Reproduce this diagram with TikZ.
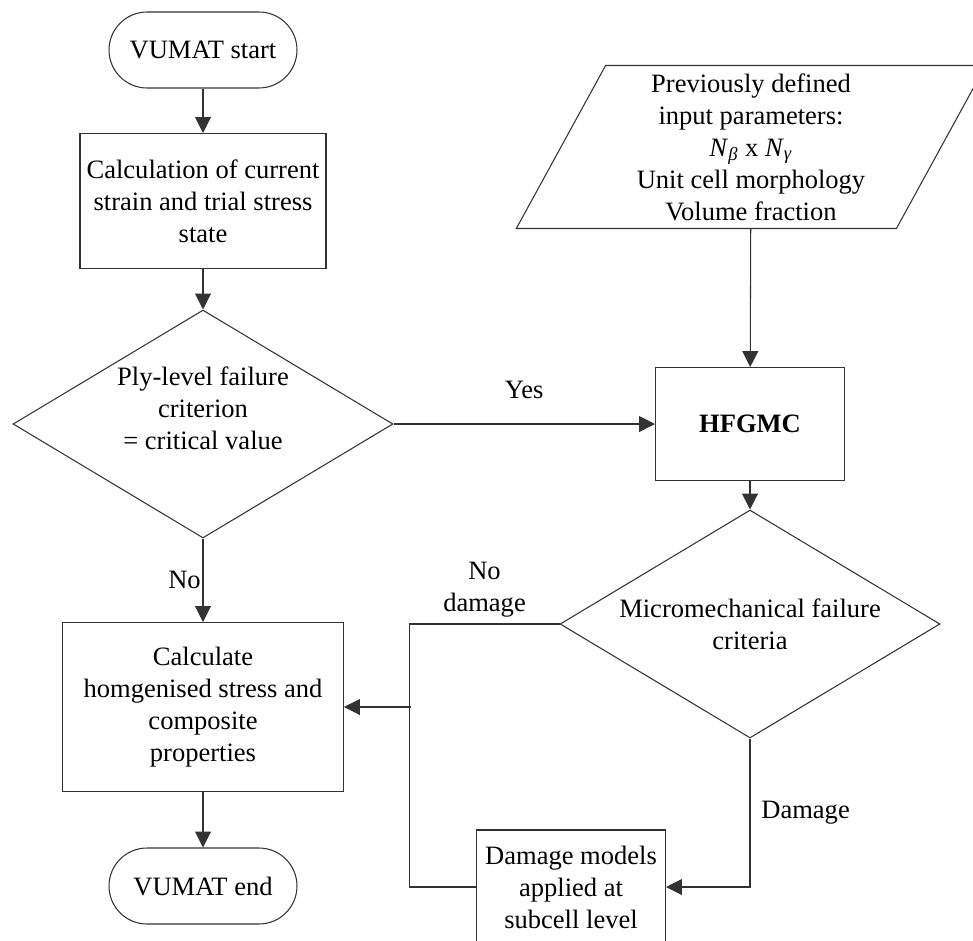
\documentclass[tikz,border=0pt]{standalone}
\usepackage{fontspec}
\setmainfont{Liberation Serif}
\usetikzlibrary{shapes.geometric,arrows.meta}

\begin{document}
\begin{tikzpicture}[x=0.02cm, y=-0.02cm, font=\rmfamily\fontsize{15.1}{18.2}\selectfont, line width=0.6pt]
	\tikzstyle{terminal} = [rectangle, draw=black!80, rounded corners=0.76cm, minimum width=3.76cm, minimum height=1.52cm]
	\tikzstyle{process} = [rectangle, draw=black!80, align=center, inner sep=2pt]
	\tikzstyle{decision} = [diamond, draw=black!80, align=center, inner sep=0pt, shape aspect=1.667, minimum width=7.6cm, minimum height=4.56cm]
	\tikzstyle{inputbox} = [trapezium, draw=black!80, align=center, inner sep=0pt, trapezium left angle=64.5, trapezium right angle=115.5, trapezium stretches=true, minimum width=9.4cm, minimum height=3.26cm]
	\tikzstyle{flow} = [draw=black!80, -{Triangle[length=9pt, width=9pt]}]
	\tikzstyle{plain} = [draw=black!80]
	\useasboundingbox (0, 0) rectangle (973, 940);
	% left column
	\node[terminal] (start) at (203, 50) {VUMAT start};
	\node[process, minimum width=4.92cm, minimum height=2.7cm] (calc) at (203, 201) {Calculation of current\\strain and trial stress\\state};
	\node[decision, label={[align=center, yshift=0.32cm]center:Ply-level failure\\criterion\\= critical value}] (ply) at (203, 424) {};
	\node[process, minimum width=5.62cm, minimum height=3.38cm] (result) at (203, 707) {Calculate\\homgenised stress and\\composite\\properties};
	\node[terminal] (end) at (203, 886) {VUMAT end};
	% right column
	\node[inputbox] (input) at (751, 147) {Previously defined\\input parameters:\\\textit{N}\textsubscript{\textit{β}} x \textit{N}\textsubscript{\textit{γ}}\\Unit cell morphology\\Volume fraction};
	\node[process, minimum width=3.78cm, minimum height=2.26cm] (hfgmc) at (750, 424) {\textbf{HFGMC}};
	\node[decision] (micro) at (750, 624) {Micromechanical failure\\criteria};
	\node[process, minimum width=3.78cm, minimum height=2.28cm] (dmg) at (571, 887) {Damage models\\applied at\\subcell level};
	\coordinate (merge) at (411, 707);
	% connectors
	\draw[flow] (start) -- (calc);
	\draw[flow] (calc) -- (ply);
	\draw[flow] (ply) -- node[midway, yshift=0.68cm] {Yes} (hfgmc);
	\draw[flow] (ply) -- node[midway, left, inner sep=1pt] {No} (result);
	\draw[flow] (input) -- (hfgmc);
	\draw[flow] (hfgmc) -- (micro);
	\draw[plain] (micro.west) -- node[midway, yshift=0.68cm, align=center] {No\\damage} ++(-150, 0) |- (dmg.west);
	\draw[flow] (micro.south) |- node[pos=0.25, right=0.1cm] {Damage} (dmg.east);
	\draw[flow] (merge) -- (result.east);
	\draw[flow] (result) -- (end);
\end{tikzpicture}
\end{document}
